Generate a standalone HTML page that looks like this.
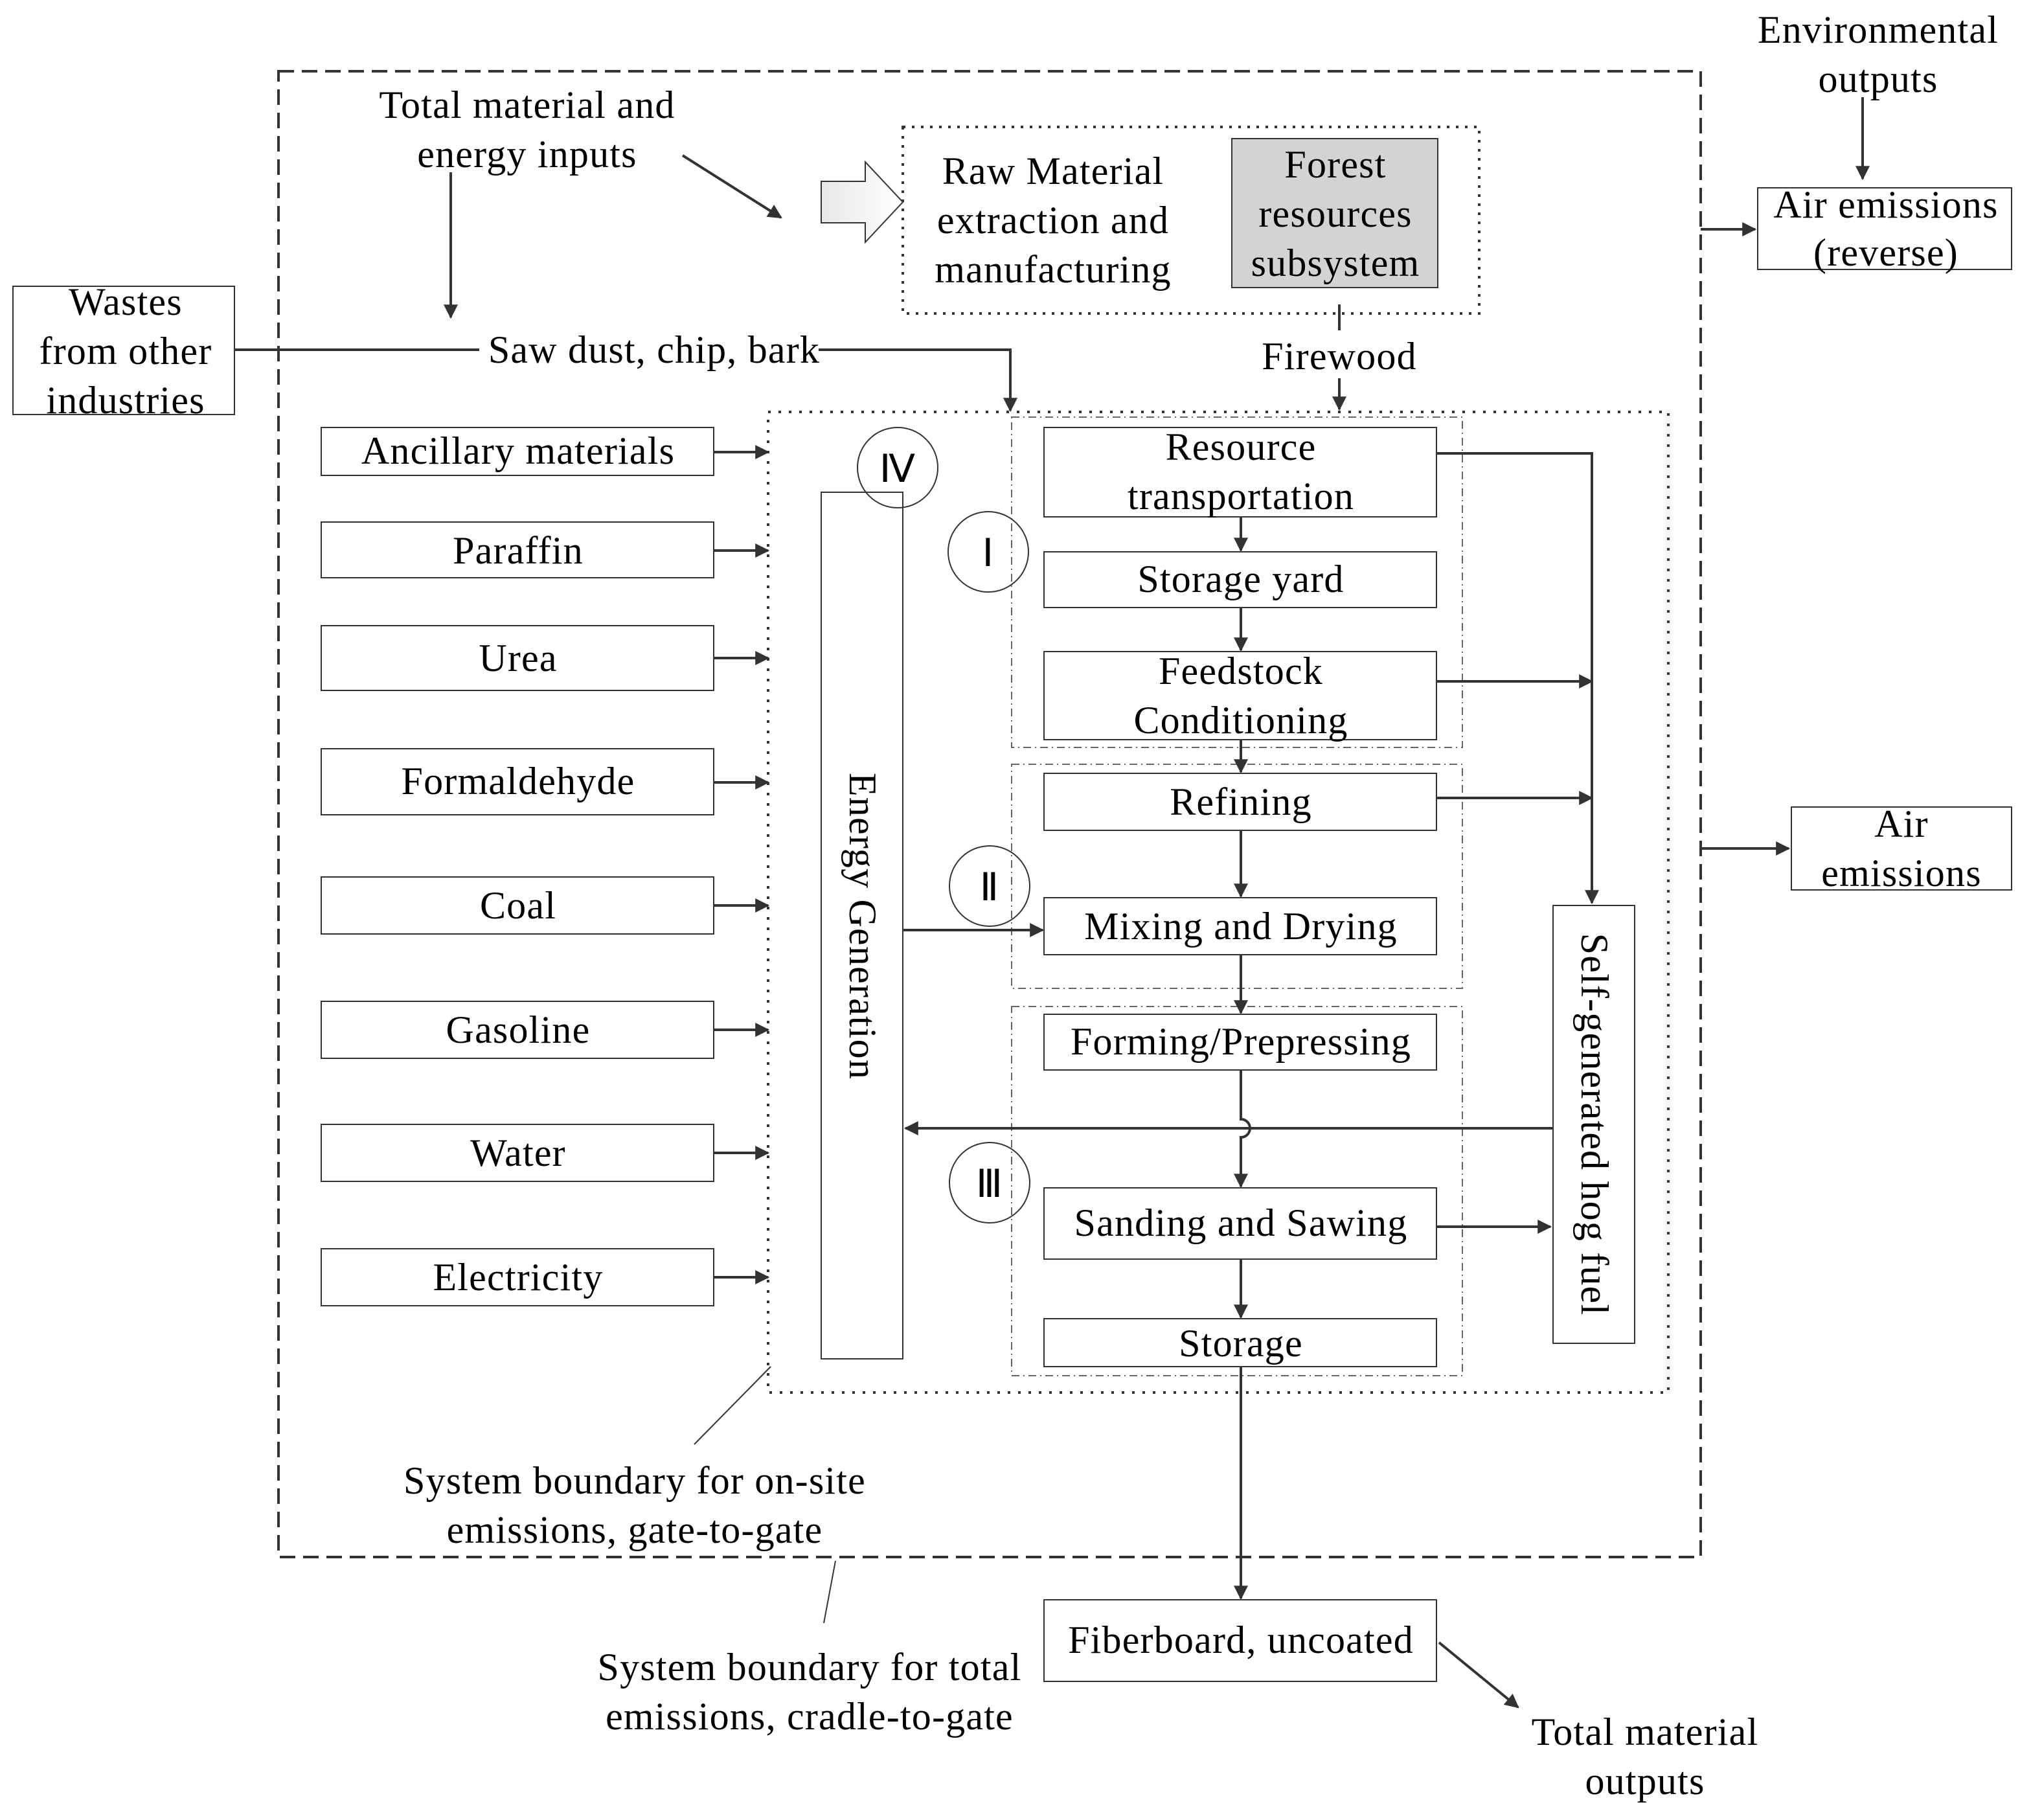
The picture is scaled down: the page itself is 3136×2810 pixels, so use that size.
<!DOCTYPE html>
<html><head><meta charset="utf-8"><style>html,body{margin:0;padding:0;background:#fff}svg{display:block}</style></head>
<body>
<svg width="3136" height="2810" viewBox="0 0 1568 1405" xmlns="http://www.w3.org/2000/svg" font-family="'Liberation Serif', serif" font-size="30" letter-spacing="0.6" fill="#000">
<defs>
<marker id="a" viewBox="0 0 10 10" refX="9" refY="5" markerWidth="11" markerHeight="11" markerUnits="userSpaceOnUse" orient="auto"><path d="M0,0 L10,5 L0,10 z" fill="#333"/></marker>
<linearGradient id="g" x1="0" x2="1"><stop offset="0" stop-color="#e8e8e8"/><stop offset="1" stop-color="#fff"/></linearGradient>
</defs>
<g stroke="#333" stroke-width="2" fill="none">
<rect x="215" y="55" width="1098" height="1147" stroke-dasharray="12,6"/>
<rect x="697" y="98" width="445" height="144" stroke-dasharray="2,5"/>
<rect x="593" y="318" width="695" height="757" stroke-dasharray="2,6"/>
<g stroke-width="1" stroke="#666" stroke-dasharray="6,3,1,3">
<rect x="781" y="322" width="348" height="255"/>
<rect x="781" y="590" width="348" height="173"/>
<rect x="781" y="777" width="348" height="285"/>
</g>
<rect x="1357" y="145" width="196" height="63" stroke-width="1"/>
<rect x="1383" y="623" width="170" height="64" stroke-width="1"/>
<rect x="10" y="221" width="171" height="99" stroke-width="1"/>
<rect x="951" y="107" width="159" height="115" fill="#d3d3d3" stroke-width="1"/>
<path d="M634,140 H668 V125 L697,156 L668,187 V172 H634 Z" fill="url(#g)" stroke-width="1"/>
<g stroke-width="1">
<rect x="248" y="330" width="303" height="37"/>
<rect x="248" y="403" width="303" height="43"/>
<rect x="248" y="483" width="303" height="50"/>
<rect x="248" y="578" width="303" height="51"/>
<rect x="248" y="677" width="303" height="44"/>
<rect x="248" y="773" width="303" height="44"/>
<rect x="248" y="868" width="303" height="44"/>
<rect x="248" y="964" width="303" height="44"/>
<rect x="634" y="380" width="63" height="669"/>
<rect x="1199" y="699" width="63" height="338"/>
<rect x="806" y="330" width="303" height="69"/>
<rect x="806" y="426" width="303" height="43"/>
<rect x="806" y="503" width="303" height="68"/>
<rect x="806" y="597" width="303" height="44"/>
<rect x="806" y="693" width="303" height="44"/>
<rect x="806" y="783" width="303" height="43"/>
<rect x="806" y="917" width="303" height="55"/>
<rect x="806" y="1018" width="303" height="37"/>
<rect x="806" y="1235" width="303" height="63"/>
<circle cx="693" cy="361" r="31"/>
<circle cx="763" cy="426" r="31"/>
<circle cx="764" cy="684" r="31"/>
<circle cx="764" cy="913" r="31"/>
</g>
<g marker-end="url(#a)">
<line x1="1438" y1="75" x2="1438" y2="138"/>
<line x1="1313" y1="177" x2="1355" y2="177"/>
<line x1="1313" y1="655" x2="1381" y2="655"/>
<line x1="348" y1="133" x2="348" y2="245"/>
<line x1="527" y1="120" x2="603" y2="168"/>
<line x1="1034" y1="292" x2="1034" y2="316"/>
<polyline points="632,270 780,270 780,317"/>
<line x1="551" y1="349" x2="593" y2="349"/>
<line x1="551" y1="425" x2="593" y2="425"/>
<line x1="551" y1="508" x2="593" y2="508"/>
<line x1="551" y1="604" x2="593" y2="604"/>
<line x1="551" y1="699" x2="593" y2="699"/>
<line x1="551" y1="795" x2="593" y2="795"/>
<line x1="551" y1="890" x2="593" y2="890"/>
<line x1="551" y1="986" x2="593" y2="986"/>
<line x1="958" y1="399" x2="958" y2="425"/>
<line x1="958" y1="469" x2="958" y2="502"/>
<line x1="958" y1="571" x2="958" y2="596"/>
<line x1="958" y1="641" x2="958" y2="692"/>
<line x1="958" y1="737" x2="958" y2="782"/>
<path d="M958,826 V864 A7,7 0 0 1 958,878 V916"/>
<line x1="958" y1="972" x2="958" y2="1017"/>
<line x1="958" y1="1055" x2="958" y2="1234"/>
<polyline points="1109,350 1229,350 1229,697"/>
<line x1="1109" y1="526" x2="1229" y2="526"/>
<line x1="1109" y1="616" x2="1229" y2="616"/>
<line x1="1109" y1="947" x2="1197" y2="947"/>
<line x1="1199" y1="871" x2="699" y2="871"/>
<line x1="697" y1="718" x2="805" y2="718"/>
<line x1="1111" y1="1268" x2="1172" y2="1318"/>
</g>
<line x1="181" y1="270" x2="370" y2="270"/>
<line x1="1034" y1="235" x2="1034" y2="255"/>
<line x1="536" y1="1115" x2="595" y2="1055" stroke-width="1"/>
<line x1="636" y1="1253" x2="645" y2="1205" stroke-width="1"/>
</g>
<g text-anchor="middle">
<text x="1450" y="33">Environmental</text><text x="1450" y="71">outputs</text>
<text x="1456" y="168">Air emissions</text><text x="1456" y="205">(reverse)</text>
<text x="1468" y="646">Air</text><text x="1468" y="684">emissions</text>
<text x="407" y="91">Total material and</text><text x="407" y="129">energy inputs</text>
<text x="813" y="142">Raw Material</text><text x="813" y="180">extraction and</text><text x="813" y="218">manufacturing</text>
<text x="1031" y="137">Forest</text><text x="1031" y="175">resources</text><text x="1031" y="213">subsystem</text>
<text x="1034" y="285">Firewood</text>
<text x="97" y="243">Wastes</text><text x="97" y="281">from other</text><text x="97" y="319">industries</text>
<text x="505" y="280">Saw dust, chip, bark</text>
<text x="400" y="358">Ancillary materials</text>
<text x="400" y="435">Paraffin</text>
<text x="400" y="518">Urea</text>
<text x="400" y="613">Formaldehyde</text>
<text x="400" y="709">Coal</text>
<text x="400" y="805">Gasoline</text>
<text x="400" y="900">Water</text>
<text x="400" y="996">Electricity</text>
<text x="958" y="355">Resource</text><text x="958" y="393">transportation</text>
<text x="958" y="457">Storage yard</text>
<text x="958" y="528">Feedstock</text><text x="958" y="566">Conditioning</text>
<text x="958" y="629">Refining</text>
<text x="958" y="725">Mixing and Drying</text>
<text x="958" y="814">Forming/Prepressing</text>
<text x="958" y="954">Sanding and Sawing</text>
<text x="958" y="1047">Storage</text>
<text x="958" y="1276">Fiberboard, uncoated</text>
<text x="1270" y="1347">Total material</text><text x="1270" y="1385">outputs</text>
<text x="490" y="1153">System boundary for on-site</text><text x="490" y="1191">emissions, gate-to-gate</text>
<text x="625" y="1297">System boundary for total</text><text x="625" y="1335">emissions, cradle-to-gate</text>
<text x="693" y="372">Ⅳ</text>
<text x="763" y="437">Ⅰ</text>
<text x="764" y="695">Ⅱ</text>
<text x="764" y="924">Ⅲ</text>
<text transform="translate(656,715) rotate(90)">Energy Generation</text>
<text transform="translate(1221,868) rotate(90)">Self-generated hog fuel</text>
</g>
</svg>
</body></html>
